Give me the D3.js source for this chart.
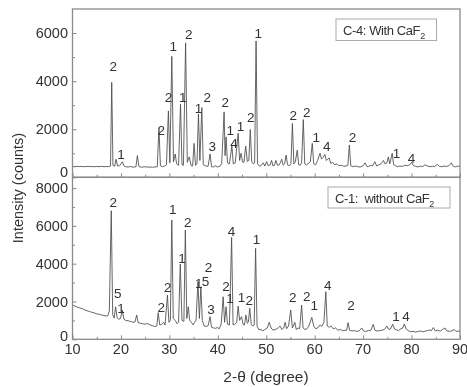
<!DOCTYPE html>
<html>
<head>
<meta charset="utf-8">
<script src="https://cdn.jsdelivr.net/npm/d3@7"></script>
<style>
  body { margin: 0; background: #fff; }
  svg { display: block; font-family: "Liberation Sans", Arial, sans-serif; will-change: transform; }
</style>
</head>
<body>
<div id="chart"></div>
<script>
// traces: [2-theta, counts]
const traceC4 = [
  [10,450],[10.5,440],[11,455],[11.5,445],[12,450],[12.5,440],[13,455],[13.5,445],[14,450],[14.5,440],
  [15,450],[15.5,445],[16,455],[16.5,440],[17,450],[17.5,445],[17.85,470],[18.1,3950],[18.35,500],[18.7,460],
  [19.0,750],[19.3,470],[19.7,480],[20.0,560],[20.3,650],[20.6,480],[21,440],[21.5,430],[22,450],[22.5,420],
  [23.1,440],[23.4,900],[23.7,450],[24.2,420],[25,440],[25.5,420],[26,430],[26.5,415],[27,430],[27.5,440],
  [27.85,2050],[28.15,480],[28.6,440],[29,470],[29.4,520],[29.8,2760],[30.1,600],[30.5,5030],[30.85,640],[31.2,970],
  [31.5,560],[31.9,500],[32.3,3040],[32.6,520],[32.9,500],[33.35,5590],[33.7,620],[34.1,850],[34.5,480],[34.8,470],
  [35.1,1410],[35.4,500],[35.7,560],[36.0,2630],[36.3,700],[36.7,2900],[37.0,520],[37.5,470],[38.0,460],[38.4,970],
  [38.7,440],[39.1,430],[39.5,480],[39.9,430],[40.4,460],[40.8,560],[41.3,2720],[41.5,900],[41.7,1680],[42.0,600],
  [42.4,560],[42.9,1300],[43.2,560],[43.6,600],[44.2,1830],[44.5,700],[44.8,1000],[45.1,640],[45.4,620],[45.75,1300],
  [46.1,660],[46.4,700],[46.7,1990],[47.0,650],[47.3,560],[47.6,600],[47.9,5670],[48.2,560],[48.6,460],[49.0,500],
  [49.4,600],[49.7,470],[50.1,650],[50.4,480],[50.8,520],[51.1,700],[51.4,470],[51.7,500],[52.0,700],[52.3,500],
  [52.7,520],[53.2,750],[53.5,500],[53.8,560],[54.1,925],[54.4,520],[54.8,480],[55.1,560],[55.4,2240],[55.7,560],
  [56.0,640],[56.4,1130],[56.7,520],[57.0,500],[57.3,600],[57.65,2400],[57.95,560],[58.3,520],[58.6,560],[59.1,640],
  [59.5,1410],[59.8,560],[60.2,520],[60.6,700],[61.1,1000],[61.4,760],[61.7,820],[62.1,950],[62.4,700],[62.7,760],
  [63.0,800],[63.3,580],[63.7,620],[64.1,520],[64.6,560],[65.0,480],[65.5,500],[66.0,460],[66.5,470],[66.85,500],
  [67.15,1340],[67.45,480],[67.9,440],[68.4,470],[68.9,440],[69.4,430],[70.0,480],[70.4,600],[70.8,440],[71.2,460],
  [71.6,500],[72.0,480],[72.4,650],[72.8,470],[73.3,520],[73.7,560],[74.2,700],[74.5,560],[74.9,600],[75.2,850],
  [75.5,560],[76.0,1000],[76.3,520],[76.7,480],[77.1,440],[77.6,470],[78.1,450],[78.6,500],[79.1,480],[79.6,520],
  [80.0,620],[80.4,480],[80.8,460],[81.3,430],[81.8,460],[82.3,450],[82.8,520],[83.3,470],[83.8,440],[84.3,460],
  [84.8,450],[85.3,540],[85.7,460],[86.2,440],[86.7,470],[87.2,450],[87.7,480],[88.2,600],[88.6,460],[89.1,430],
  [89.6,470],[90,450]
];

const traceC1 = [
  [10,1810],[10.5,1760],[11,1700],[11.5,1660],[12,1620],[12.5,1560],[13,1510],[13.5,1470],[14,1430],[14.5,1390],
  [15,1350],[15.5,1320],[16,1290],[16.5,1260],[17,1230],[17.3,1240],[17.6,1500],[18.0,6800],[18.3,1300],[18.6,1120],
  [18.9,1720],[19.2,1150],[19.5,1060],[19.9,1100],[20.3,1550],[20.6,1060],[21.0,1000],[21.5,980],[22,940],[22.5,900],
  [22.9,920],[23.25,1285],[23.55,880],[24,850],[24.5,820],[25,800],[25.5,840],[26,760],[26.5,720],[27,680],
  [27.4,700],[27.7,1410],[28.0,760],[28.4,780],[28.8,900],[29.1,760],[29.6,2340],[29.9,900],[30.2,1000],[30.5,6310],
  [30.8,1100],[31.2,1000],[31.6,820],[31.9,900],[32.25,3980],[32.6,1000],[33.0,950],[33.3,5780],[33.6,1100],[33.9,1720],
  [34.2,1000],[34.6,880],[34.9,760],[35.2,900],[35.5,1000],[35.9,3050],[36.2,1100],[36.5,2780],[36.8,1000],[37.2,700],
  [37.6,680],[38.0,720],[38.4,1200],[38.7,640],[39.1,600],[39.5,580],[39.9,620],[40.3,560],[40.7,800],[41.1,2250],
  [41.4,900],[41.7,1720],[42.0,800],[42.4,760],[42.85,5390],[43.15,760],[43.5,800],[43.9,900],[44.2,1760],[44.5,1000],
  [44.9,1200],[45.2,800],[45.5,760],[45.8,1285],[46.1,850],[46.3,900],[46.6,1640],[46.9,800],[47.2,700],[47.5,760],
  [47.8,4810],[48.1,700],[48.5,500],[48.9,520],[49.3,450],[49.7,520],[50.2,600],[50.6,900],[51.0,600],[51.4,480],
  [51.8,520],[52.3,560],[52.85,700],[53.2,520],[53.6,600],[53.9,900],[54.2,560],[54.6,700],[55.05,1550],[55.4,600],
  [55.9,900],[56.2,520],[56.6,600],[56.9,560],[57.3,1810],[57.6,600],[58.0,520],[58.4,560],[58.8,700],[59.4,1160],
  [59.8,700],[60.2,560],[60.6,600],[61.1,760],[61.5,680],[61.9,900],[62.3,2520],[62.6,700],[63.0,640],[63.4,700],
  [63.8,560],[64.3,600],[64.8,480],[65.3,520],[65.8,450],[66.3,480],[66.6,470],[66.9,880],[67.2,480],[67.7,440],
  [68.2,460],[68.7,420],[69.2,450],[69.7,600],[70.1,440],[70.6,420],[71.1,460],[71.6,480],[72.1,790],[72.4,480],
  [72.9,440],[73.4,460],[73.9,480],[74.4,520],[74.9,700],[75.3,520],[75.7,560],[76.1,800],[76.5,540],[76.9,500],
  [77.3,460],[77.8,560],[78.2,600],[78.5,810],[78.9,540],[79.3,460],[79.8,400],[80.3,420],[80.8,380],[81.3,410],
  [81.8,440],[82.3,400],[82.8,430],[83.3,460],[83.8,500],[84.1,450],[84.5,620],[84.9,440],[85.4,480],[85.9,430],
  [86.4,520],[86.9,600],[87.3,440],[87.8,420],[88.3,450],[88.8,520],[89.2,410],[89.6,440],[90,420]
];

// phase labels: [2-theta, counts, text]
const labelsC4 = [
  [18.4,4630,'2'],[20.0,970,'1'],[28.3,1960,'2'],[29.8,3320,'2'],[30.8,5450,'1'],[32.75,3320,'1'],
  [34.0,5950,'2'],[36.0,2860,'1'],[37.8,3320,'2'],[38.85,1310,'3'],[41.55,3140,'2'],[42.55,1960,'1'],
  [43.35,1420,'4'],[44.7,2130,'1'],[46.8,2490,'2'],[48.35,5980,'1'],[55.6,2585,'2'],[58.35,2720,'2'],
  [60.3,1685,'1'],[62.5,1310,'4'],[67.8,1660,'2'],[76.9,1020,'1'],[80.0,790,'4']
];
const labelsC1 = [
  [18.4,7280,'2'],[19.35,2420,'5'],[20.0,1660,'1'],[28.3,1720,'2'],[29.65,2750,'2'],[30.7,6870,'1'],
  [32.6,4280,'1'],[33.8,6190,'2'],[36.05,2960,'1'],[38.1,3800,'2'],[37.45,3080,'5'],[38.6,1590,'3'],
  [41.7,2820,'2'],[42.5,2170,'1'],[42.85,5740,'4'],[44.9,2250,'1'],[46.5,2080,'2'],[48.0,5300,'1'],
  [55.45,2220,'2'],[58.35,2290,'2'],[59.9,1810,'1'],[62.7,2870,'4'],[67.5,1810,'2'],[76.8,1200,'1'],
  [78.85,1200,'4']
];

const xTicks = [10, 20, 30, 40, 50, 60, 70, 80, 90];
const yTicksC4 = [0, 2000, 4000, 6000];
const yTicksC1 = [0, 2000, 4000, 6000, 8000];

const width = 467, height = 387;
const plotLeft = 72.5, plotRight = 460, plotTop = 9, plotMid = 177.3, plotBottom = 339.3;
const ink = '#333', frame = '#8a8a8a';

const svg = d3.select('#chart').append('svg')
  .attr('width', width)
  .attr('height', height);

svg.append('rect').attr('width', width).attr('height', height).attr('fill', '#fff');

const x = d3.scaleLinear().domain([10, 90]).range([plotLeft, plotRight]);
const yTop = d3.scaleLinear().domain([0, 7000]).range([plotMid, plotTop]);
const yBot = d3.scaleLinear().domain([0, 8570]).range([plotBottom, plotMid]);

function panel(y, trace, labels, yTicks, yMax, legend, box) {
  const g = svg.append('g');

  g.append('path')
    .datum(trace)
    .attr('fill', 'none')
    .attr('stroke', '#4a4a4a')
    .attr('stroke-width', 0.85)
    .attr('stroke-linejoin', 'round')
    .attr('d', d3.line().x(d => x(d[0])).y(d => y(d[1])));

  g.selectAll('text.peak')
    .data(labels)
    .join('text')
    .attr('class', 'peak')
    .attr('x', d => x(d[0]))
    .attr('y', d => y(d[1]))
    .attr('dy', '0.36em')
    .attr('text-anchor', 'middle')
    .attr('font-size', 13.5)
    .style('fill', ink)
    .text(d => d[2]);

  // left axis, ticks pointing in
  const ax = g.append('g')
    .attr('transform', `translate(${plotLeft},0)`)
    .call(d3.axisLeft(y).tickValues(yTicks).tickSize(-4).tickPadding(4.5).tickFormat(d3.format('d')));
  g.append('g')
    .attr('transform', `translate(${plotLeft},0)`)
    .call(d3.axisLeft(y).tickValues(d3.range(1000, yMax, 2000)).tickSize(-2.5).tickFormat(''));

  // bottom axis ticks (inward)
  g.append('g')
    .attr('transform', `translate(0,${y.range()[0]})`)
    .call(d3.axisBottom(x).tickValues(xTicks).tickSize(-4).tickFormat(''));
  g.append('g')
    .attr('transform', `translate(0,${y.range()[0]})`)
    .call(d3.axisBottom(x).tickValues(d3.range(15, 90, 10)).tickSize(-2.5).tickFormat(''));

  g.selectAll('.domain').remove();
  g.selectAll('.tick line').attr('stroke', frame).attr('stroke-width', 1);
  ax.selectAll('text').attr('font-size', 14.5).attr('fill', ink).attr('font-family', null);

  g.append('rect')
    .attr('x', plotLeft).attr('y', y.range()[1])
    .attr('width', plotRight - plotLeft).attr('height', y.range()[0] - y.range()[1])
    .attr('fill', 'none').attr('stroke', frame).attr('stroke-width', 1.3);

  // legend box
  g.append('rect')
    .attr('x', box[0]).attr('y', box[1]).attr('width', box[2]).attr('height', box[3])
    .attr('fill', '#fff').attr('stroke', '#aaa').attr('stroke-width', 1);
  const t = g.append('text')
    .attr('x', box[0] + 7).attr('y', box[1] + box[3] / 2 + 5)
    .attr('font-size', 13).attr('fill', ink)
    .attr('letter-spacing', -0.4)
    .attr('xml:space', 'preserve');
  t.append('tspan').text(legend);
  t.append('tspan').attr('font-size', 9).attr('dy', 4).text('2');
  return ax;
}

const axTop = panel(yTop, traceC4, labelsC4, yTicksC4, 7000, 'C-4: With CaF', [336, 19, 100.5, 21.5]);
const axBot = panel(yBot, traceC1, labelsC1, yTicksC1, 8570, 'C-1:  without CaF', [328, 187, 122, 21]);

// nudge the "0" labels up so they clear the neighbours below
axTop.selectAll('.tick').filter(d => d === 0).select('text').attr('dy', '-0.05em');
axBot.selectAll('.tick').filter(d => d === 0).select('text').attr('dy', '0.1em');

// x tick labels under the lower panel
svg.append('g')
  .selectAll('text')
  .data(xTicks)
  .join('text')
  .attr('x', d => x(d))
  .attr('y', plotBottom + 15)
  .attr('text-anchor', 'middle')
  .attr('font-size', 14.5)
  .attr('fill', ink)
  .text(d => d);

svg.append('text')
  .attr('x', 266)
  .attr('y', 382)
  .attr('text-anchor', 'middle')
  .attr('font-size', 15.5)
  .attr('fill', ink)
  .text('2-θ (degree)');

svg.append('text')
  .attr('transform', 'translate(23,188) rotate(-90)')
  .attr('text-anchor', 'middle')
  .attr('font-size', 14.5)
  .attr('fill', ink)
  .text('Intensity (counts)');
</script>
</body>
</html>
